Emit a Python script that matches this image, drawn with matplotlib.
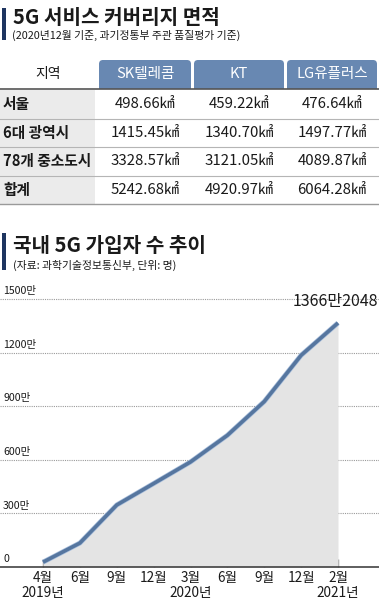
import matplotlib
matplotlib.use("Agg")
import matplotlib.pyplot as plt
from matplotlib.patches import Rectangle, FancyBboxPatch
from matplotlib.transforms import blended_transform_factory
import matplotlib.patheffects as pe

plt.rcParams['font.family'] = ['Noto Sans CJK KR', 'DejaVu Sans']

# ---- data ----
title1 = "5G 서비스 커버리지 면적"
sub1 = "(2020년12월 기준, 과기정통부 주관 품질평가 기준)"
col_header = "지역"
carriers = ["SK텔레콤", "KT", "LG유플러스"]
regions = ["서울", "6대 광역시", "78개 중소도시", "합계"]
sk_area = [498.66, 1415.45, 3328.57, 5242.68]
kt_area = [459.22, 1340.70, 3121.05, 4920.97]
lg_area = [476.64, 1497.77, 4089.87, 6064.28]

title2 = "국내 5G 가입자 수 추이"
sub2 = "(자료: 과학기술정보통신부, 단위: 명)"
months = ["4월", "6월", "9월", "12월", "3월", "6월", "9월", "12월", "2월"]
years = ["2019년", "", "", "", "2020년", "", "", "", "2021년"]
subscribers = [27, 134, 347, 467, 588, 737, 926, 1185, 1366]  # 만 명
y_ticks = [0, 300, 600, 900, 1200, 1500]
y_tick_labels = ["0", "300만", "600만", "900만", "1200만", "1500만"]
last_label = "1366만2048"

NAVY = "#1e3560"
BLUE = "#6888b2"
LINE = "#56769f"
FILL = "#e4e4e4"
DARK = "#1a1a1a"

W, H = 379, 602
fig = plt.figure(figsize=(W / 100, H / 100), dpi=100)
bg = fig.add_axes([0, 0, 1, 1])
bg.set_xlim(0, W)
bg.set_ylim(H, 0)
bg.axis("off")

# ---- section 1 header ----
bg.add_patch(Rectangle((2, 8), 4, 32, color=NAVY, lw=0))
bg.text(13, 17, title1, fontsize=14.5, fontweight="bold", color=DARK, va="center", ha="left")
bg.text(12, 35, sub1, fontsize=7.8, color=DARK, va="center", ha="left")

# ---- table ----
col_x = [(99, 191), (194, 284), (287, 377)]
row_y = [90, 118.5, 147, 175.5, 204]
bg.add_patch(Rectangle((0, row_y[0]), 95, row_y[-1] - row_y[0], color="#ebebeb", lw=0))
for (x0, x1), name in zip(col_x, carriers):
    bg.add_patch(FancyBboxPatch((x0, 60), x1 - x0, 28,
                                boxstyle="round,pad=0,rounding_size=4", color=BLUE, lw=0))
    bg.add_patch(Rectangle((x0, 74), x1 - x0, 15, color=BLUE, lw=0))
    bg.text((x0 + x1) / 2, 74, name, fontsize=10.5, color="white", ha="center", va="center")
bg.text(48, 74, col_header, fontsize=10, color=DARK, ha="center", va="center")
bg.plot([0, W], [89, 89], color="#555555", lw=1.2)
for yy in row_y[1:-1]:
    bg.plot([0, W], [yy, yy], color="#b5b5b5", lw=0.8)
bg.plot([0, W], [row_y[-1], row_y[-1]], color="#9a9a9a", lw=1)

for i, reg in enumerate(regions):
    yc = (row_y[i] + row_y[i + 1]) / 2
    bg.text(3, yc, reg, fontsize=10.6, fontweight="bold", color=DARK, ha="left", va="center")
    for (x0, x1), vals in zip(col_x, [sk_area, kt_area, lg_area]):
        bg.text((x0 + x1) / 2, yc, f"{vals[i]:.2f}㎢", fontsize=10.8, color=DARK,
                ha="center", va="center")

# ---- section 2 header ----
bg.add_patch(Rectangle((2, 233), 4, 37, color=NAVY, lw=0))
bg.text(13, 245, title2, fontsize=14.5, fontweight="bold", color=DARK, va="center", ha="left")
bg.text(13, 265, sub2, fontsize=7.8, color=DARK, va="center", ha="left")

# ---- line chart ----
x0px, x8px = 43, 338
step = (x8px - x0px) / 8
y0px, y1500px = 567, 299
ax = fig.add_axes([0, (H - y0px) / H, 1, (y0px - y1500px) / H])
ax.patch.set_alpha(0)
ax.set_xlim(-x0px / step, 8 + (W - x8px) / step)
ax.set_ylim(0, 1500)
xs = list(range(len(months)))

for v in y_ticks[1:]:
    ax.axhline(v, color="#9a9a9a", lw=0.8, ls=(0, (1, 1)), clip_on=False, zorder=1)

ax.fill_between(xs, subscribers, 0, color=FILL, lw=0, zorder=2)
ax.plot(xs, subscribers, color=LINE, lw=2.6, zorder=3, solid_capstyle="butt",
        path_effects=[pe.Stroke(linewidth=3.6, foreground="#a9bfdc"), pe.Normal()])

bt = blended_transform_factory(ax.transAxes, ax.transData)
for v, lab in zip(y_ticks, y_tick_labels):
    ax.annotate(lab, xy=(3 / W, v), xycoords=bt, xytext=(0, 2), textcoords="offset points",
                fontsize=7.6, color=DARK, ha="left", va="bottom")

ax.annotate(last_label, xy=(xs[-1], subscribers[-1]), xytext=(-2, 9),
            textcoords="offset points", fontsize=11.5, color=DARK, ha="center", va="bottom")

for s in ["top", "left", "right"]:
    ax.spines[s].set_visible(False)
ax.spines["bottom"].set_color("#333333")
ax.spines["bottom"].set_linewidth(1.1)
ax.set_yticks([])
ax.set_xticks(xs)
ax.set_xticklabels([m + ("\n" + y if y else "") for m, y in zip(months, years)],
                   fontsize=9.8, color=DARK, linespacing=1.1)
ax.tick_params(axis="x", direction="in", length=6, width=1, color="#8a8a8a", pad=3)

fig.savefig("out.png", dpi=100)
